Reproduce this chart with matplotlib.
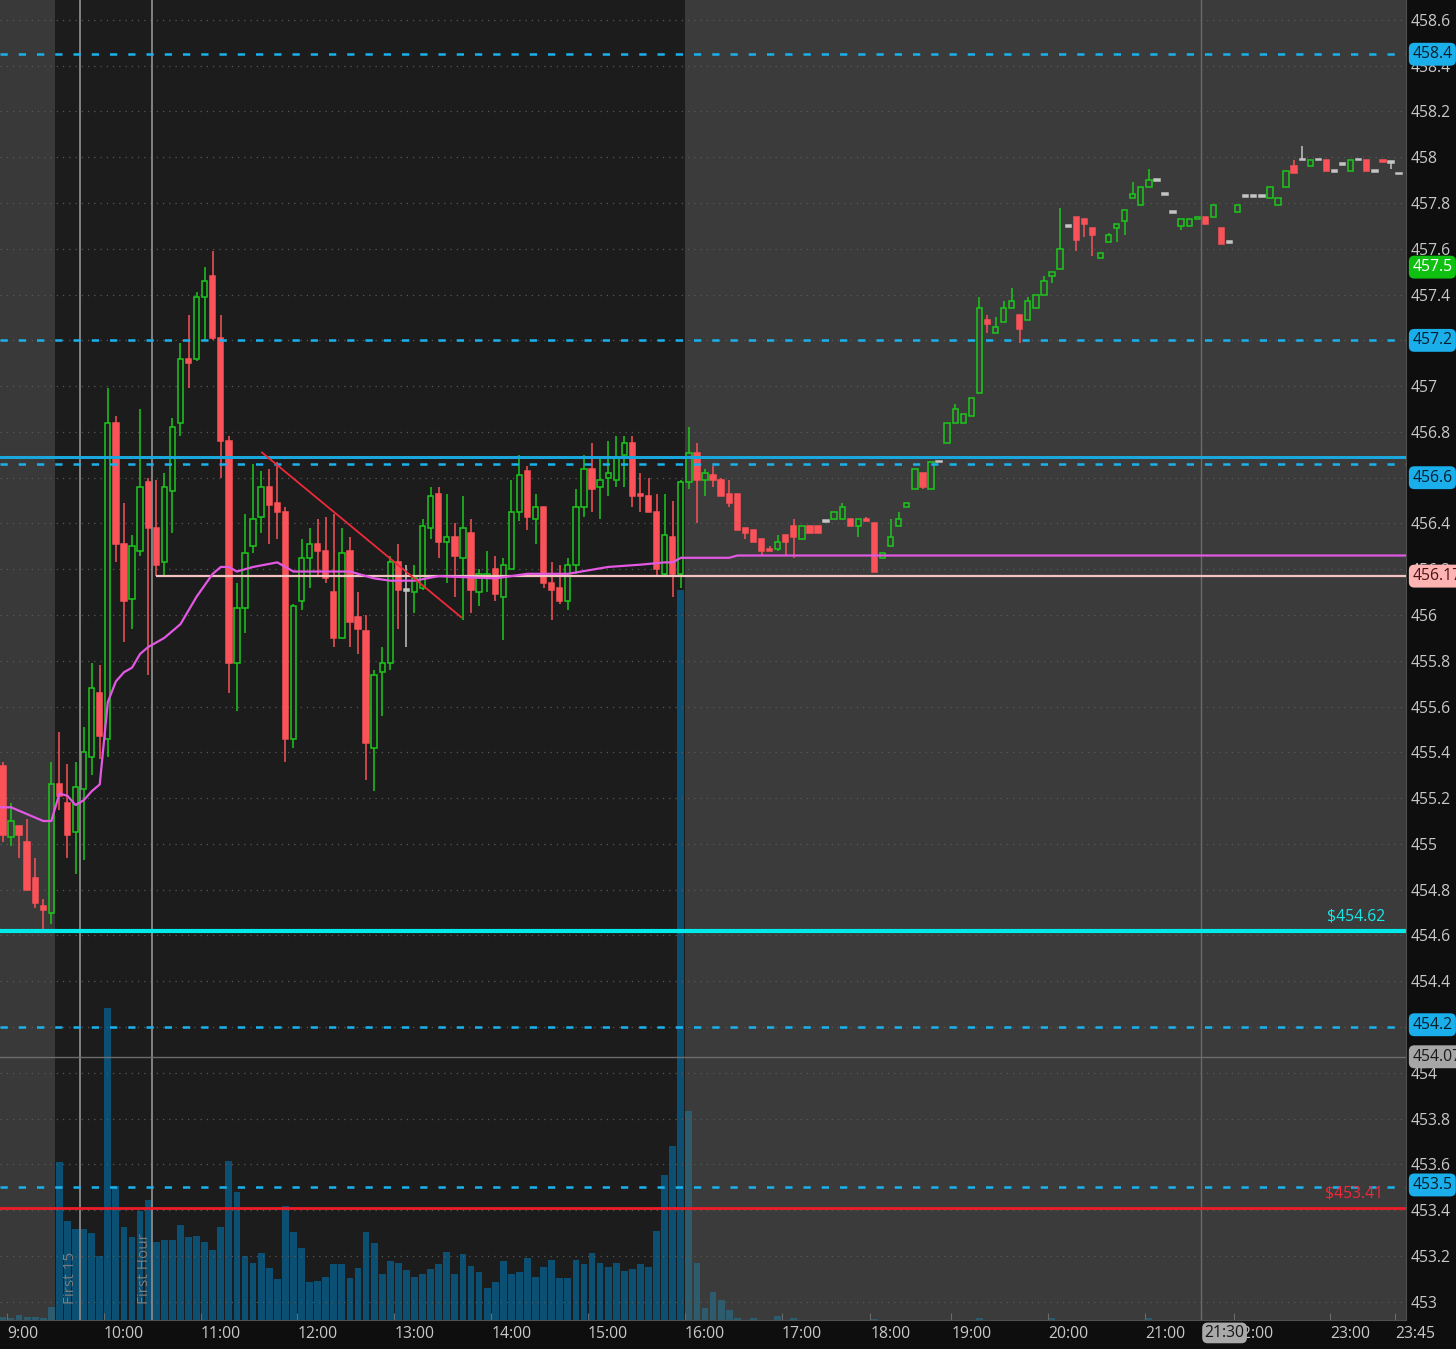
import numpy as np
import matplotlib.pyplot as plt
from matplotlib.transforms import blended_transform_factory

plt.rcParams['font.family'] = ['Open Sans', 'DejaVu Sans']

# 5 minute bars, index 0 = 9:00 bar (index -1 = 8:55)
opens = [455.34, 455.03, 455.08, 455.01, 454.85, 454.73, 454.70,
         455.26, 455.18, 455.05, 455.24, 455.38, 455.66, 455.46, 456.84, 456.31, 456.07,
         456.28, 456.58, 456.38, 456.23, 456.54, 456.84, 457.12, 457.12, 457.39, 457.48,
         457.21, 456.76, 455.79, 456.03, 456.30, 456.43, 456.56, 456.49, 456.45, 455.46,
         456.06, 456.25, 456.31, 456.28, 456.10, 455.90, 456.28, 455.99, 455.93, 455.42,
         455.75, 455.79, 456.23, 456.11, 456.10, 456.12, 456.38, 456.53, 456.32, 456.34,
         456.25, 456.36, 456.10, 456.17, 456.20, 456.08, 456.20, 456.45, 456.63, 456.42,
         456.47, 456.14, 456.12, 456.06, 456.22, 456.47, 456.64, 456.56, 456.60, 456.59,
         456.70, 456.75, 456.53, 456.52, 456.45, 456.18, 456.34, 456.18,
         456.58, 456.71, 456.59, 456.61, 456.59, 456.53, 456.53, 456.38, 456.37, 456.33,
         456.29, 456.29, 456.35, 456.39, 456.33, 456.39, 456.39, 456.41, 456.42, 456.42,
         456.42, 456.39, 456.42, 456.40, 456.25, 456.30, 456.39, 456.47, 456.55, 456.62,
         456.55, 456.67, 456.75, 456.84, 456.84, 456.87, 456.97, 457.29, 457.23, 457.28,
         457.34, 457.31, 457.29, 457.34, 457.40, 457.48, 457.51, 457.70, 457.74, 457.73,
         457.69, 457.56, 457.63, 457.69, 457.72, 457.82, 457.79, 457.87, 457.90, 457.84,
         457.76, 457.70, 457.70, 457.73, 457.74, 457.74, 457.69, 457.63, 457.76, 457.83,
         457.83, 457.83, 457.82, 457.79, 457.87, 457.96, 457.99, 457.96, 457.99, 457.99,
         457.94, 457.97, 457.94, 457.99, 457.99, 457.94, 457.99, 457.98, 457.93]
highs = [455.36, 455.18, 455.08, 455.11, 454.94, 454.76, 455.36,
         455.49, 455.35, 455.36, 455.51, 455.79, 455.78, 456.99, 456.87, 456.49, 456.35,
         456.90, 456.60, 456.59, 456.62, 456.86, 457.19, 457.31, 457.41, 457.52, 457.59,
         457.31, 456.78, 456.14, 456.44, 456.66, 456.63, 456.64, 456.67, 456.47, 456.05,
         456.33, 456.38, 456.42, 456.43, 456.44, 456.38, 456.34, 456.10, 456.00, 455.76,
         455.86, 456.26, 456.31, 456.22, 456.22, 456.42, 456.56, 456.56, 456.53, 456.40,
         456.52, 456.42, 456.20, 456.28, 456.26, 456.25, 456.59, 456.70, 456.65, 456.53,
         456.47, 456.23, 456.22, 456.25, 456.55, 456.70, 456.75, 456.69, 456.76, 456.78,
         456.78, 456.78, 456.62, 456.60, 456.53, 456.53, 456.50, 456.59,
         456.82, 456.75, 456.64, 456.65, 456.60, 456.59, 456.53, 456.38, 456.37, 456.33,
         456.30, 456.35, 456.35, 456.42, 456.39, 456.39, 456.39, 456.41, 456.45, 456.49,
         456.42, 456.42, 456.43, 456.40, 456.27, 456.42, 456.45, 456.49, 456.64, 456.62,
         456.67, 456.67, 456.84, 456.92, 456.88, 456.95, 457.39, 457.31, 457.30, 457.37,
         457.43, 457.31, 457.39, 457.40, 457.48, 457.50, 457.78, 457.70, 457.74, 457.73,
         457.69, 457.58, 457.67, 457.71, 457.77, 457.89, 457.87, 457.95, 457.90, 457.84,
         457.76, 457.73, 457.73, 457.74, 457.74, 457.79, 457.69, 457.63, 457.79, 457.83,
         457.83, 457.83, 457.87, 457.82, 457.94, 457.99, 458.05, 457.99, 457.99, 457.99,
         457.94, 457.97, 457.99, 457.99, 457.99, 457.94, 457.99, 457.98, 457.93]
lows = [455.01, 454.99, 454.94, 454.80, 454.72, 454.62, 454.65,
        455.15, 454.94, 454.87, 454.93, 455.30, 455.37, 455.38, 456.23, 455.88, 455.94,
        456.26, 455.74, 456.17, 456.17, 456.36, 456.78, 456.99, 457.11, 457.20, 457.20,
        456.60, 455.66, 455.58, 455.92, 456.27, 456.36, 456.31, 456.33, 455.36, 455.42,
        456.02, 456.12, 456.17, 456.14, 455.86, 455.90, 455.86, 455.83, 455.28, 455.23,
        455.56, 455.76, 455.94, 455.86, 456.01, 456.11, 456.33, 456.25, 456.14, 456.08,
        455.98, 456.01, 456.04, 456.10, 456.06, 455.89, 456.20, 456.41, 456.37, 456.31,
        456.12, 455.98, 456.05, 456.02, 456.18, 456.43, 456.45, 456.42, 456.52, 456.56,
        456.56, 456.47, 456.45, 456.45, 456.17, 456.17, 456.08, 456.12,
        456.55, 456.40, 456.52, 456.56, 456.52, 456.47, 456.37, 456.33, 456.32, 456.26,
        456.28, 456.28, 456.26, 456.25, 456.33, 456.36, 456.36, 456.41, 456.42, 456.42,
        456.39, 456.34, 456.41, 456.19, 456.25, 456.30, 456.39, 456.47, 456.55, 456.55,
        456.55, 456.67, 456.75, 456.84, 456.84, 456.87, 456.97, 457.23, 457.23, 457.28,
        457.34, 457.19, 457.29, 457.34, 457.40, 457.45, 457.51, 457.70, 457.59, 457.65,
        457.57, 457.56, 457.63, 457.63, 457.66, 457.82, 457.79, 457.87, 457.90, 457.84,
        457.76, 457.68, 457.70, 457.73, 457.71, 457.74, 457.62, 457.63, 457.76, 457.83,
        457.83, 457.83, 457.82, 457.79, 457.87, 457.93, 457.99, 457.96, 457.99, 457.94,
        457.94, 457.97, 457.94, 457.99, 457.94, 457.94, 457.98, 457.95, 457.93]
closes = [455.04, 455.10, 455.04, 454.80, 454.74, 454.71, 455.26,
          455.21, 455.04, 455.25, 455.40, 455.68, 455.47, 456.84, 456.31, 456.06, 456.30,
          456.56, 456.38, 456.22, 456.56, 456.82, 457.12, 457.10, 457.39, 457.46, 457.21,
          456.76, 455.79, 456.03, 456.27, 456.42, 456.56, 456.48, 456.45, 455.46, 456.04,
          456.25, 456.31, 456.28, 456.16, 455.90, 456.27, 455.97, 455.94, 455.44, 455.74,
          455.79, 456.23, 456.11, 456.11, 456.16, 456.39, 456.52, 456.32, 456.34, 456.26,
          456.38, 456.11, 456.18, 456.18, 456.09, 456.22, 456.45, 456.61, 456.43, 456.47,
          456.14, 456.11, 456.06, 456.22, 456.47, 456.64, 456.55, 456.59, 456.62, 456.69,
          456.75, 456.52, 456.52, 456.45, 456.20, 456.35, 456.18, 456.58,
          456.71, 456.59, 456.62, 456.59, 456.52, 456.49, 456.37, 456.36, 456.32, 456.28,
          456.28, 456.32, 456.32, 456.34, 456.39, 456.36, 456.36, 456.41, 456.45, 456.47,
          456.39, 456.42, 456.41, 456.19, 456.27, 456.34, 456.42, 456.49, 456.64, 456.56,
          456.67, 456.67, 456.84, 456.90, 456.88, 456.95, 457.34, 457.27, 457.26, 457.34,
          457.37, 457.25, 457.37, 457.40, 457.46, 457.50, 457.60, 457.70, 457.64, 457.71,
          457.66, 457.58, 457.66, 457.71, 457.77, 457.84, 457.87, 457.90, 457.90, 457.84,
          457.76, 457.73, 457.73, 457.74, 457.71, 457.79, 457.62, 457.63, 457.79, 457.83,
          457.83, 457.83, 457.87, 457.82, 457.94, 457.93, 457.99, 457.99, 457.99, 457.94,
          457.94, 457.97, 457.99, 457.99, 457.94, 457.94, 457.98, 457.98, 457.93]
# volume, thousands
volume = [2.7, 1.7, 4.7, 3, 3, 1.7, 12.7,
          158, 99, 91, 91, 87, 64, 312, 134, 93, 83,
          109, 120, 78, 80, 80, 95, 83, 84, 78, 70,
          93, 159, 128, 64, 57, 67, 52, 41, 114, 88,
          72, 38, 39, 43, 56, 56, 42, 52, 88, 77,
          46, 59, 57, 50, 43, 46, 51, 56, 68, 46,
          66, 54, 48, 32, 38, 59, 46, 48, 62, 43,
          53, 60, 42, 42, 60, 56, 67, 57, 53, 57,
          49, 51, 56, 53, 89, 145, 174, 730,
          209, 57, 12, 28, 20, 10, 2, 0, 2, 0,
          0, 4, 0, 2, 0, 0, 0, 0, 0, 0,
          0, 0, 0, 1, 0, 0, 0, 0, 0, 0,
          0, 0, 0, 0, 0, 0, 2, 0, 0, 0,
          0, 0, 0, 0, 0, 2, 0, 0, 0, 0,
          0, 0, 0, 0, 0, 0, 0, 2, 0, 0,
          0, 0, 0, 0, 0, 0, 0, 0, 0, 0,
          0, 0, 0, 0, 0, 0, 0, 0, 0, 0,
          0, 0, 0, 0, 0, 0, 0, 0, 0]
bar_idx = np.arange(-1, -1 + len(opens))

vwap_bar = [-2, 0, 2, 4, 5, 6, 7, 8, 9, 10, 11, 12, 13, 14, 15, 16, 17, 19, 21, 22,
            23, 24, 25, 26, 27, 28, 30, 33, 35, 42, 45, 47, 50, 53, 60, 64, 69, 74,
            78, 81, 82, 83, 84, 89, 90, 173]
vwap = [455.16, 455.16, 455.13, 455.10, 455.10, 455.22, 455.21, 455.17, 455.19, 455.23,
        455.26, 455.62, 455.71, 455.75, 455.77, 455.83, 455.86, 455.90, 455.96, 456.02,
        456.08, 456.13, 456.18, 456.21, 456.21, 456.19, 456.21, 456.23, 456.19, 456.19,
        456.16, 456.15, 456.15, 456.17, 456.16, 456.18, 456.18, 456.21, 456.22, 456.23,
        456.23, 456.25, 456.25, 456.25, 456.26, 456.26]

dashed_levels = [458.45, 457.20, 456.66, 454.20, 453.50]
resist_level = 456.69
pm_low = 454.62
red_level = 453.41
prev_close = 454.07
open_level = 456.17
trend_bar = [31.1, 55.8]
trend_price = [456.71, 455.99]

price_ticks = [453.0, 453.2, 453.4, 453.6, 453.8, 454.0, 454.2, 454.4, 454.6, 454.8,
               455.0, 455.2, 455.4, 455.6, 455.8, 456.0, 456.2, 456.4, 456.6, 456.8,
               457.0, 457.2, 457.4, 457.6, 457.8, 458.0, 458.2, 458.4, 458.6]
time_labels = ["9:00", "10:00", "11:00", "12:00", "13:00", "14:00", "15:00", "16:00",
               "17:00", "18:00", "19:00", "20:00", "21:00", "22:00", "23:00", "23:45"]
time_bar = [0, 12, 24, 36, 48, 60, 72, 84, 96, 107, 117, 129, 141, 152, 164, 172]

badge_text = ["458.4", "457.5", "457.2", "456.6", "456.17", "454.2", "454.07", "453.5"]
badge_price = [458.45, 457.52, 457.20, 456.60, 456.17, 454.21, 454.07, 453.51]
badge_bg = ['#1aaeea', '#10c010', '#1aaeea', '#1aaeea', '#ffb4b4', '#1aaeea', '#a6a6a6', '#1aaeea']
badge_fg = ['#06202e', '#ffffff', '#06202e', '#06202e', '#4a1414', '#06202e', '#1a1a1a', '#06202e']

reg_start, reg_end = 5.5, 83.5
bg_dark, bg_ext = '#1c1c1c', '#3b3b3b'
up_col, dn_col, flat_col = '#1cc81c', '#fa5258', '#c4c4c4'

fig = plt.figure(figsize=(14.56, 13.49), dpi=100, facecolor='#0e0e0e')
rect = [0, 29 / 1349, 1406 / 1456, 1320 / 1349]
ax_v = fig.add_axes(rect, zorder=1)
ax = fig.add_axes(rect, zorder=2, sharex=ax_v)
ax.patch.set_alpha(0)

# sessions
ax_v.axvspan(-5, reg_start, color='#393939', lw=0)
ax_v.axvspan(reg_start, reg_end, color=bg_dark, lw=0)
ax_v.axvspan(reg_end, 180, color=bg_ext, lw=0)

# volume
in_reg = (bar_idx > reg_start) & (bar_idx < reg_end)
vol_col = ['#0b5073' if r else '#2c5c6d' for r in in_reg]
ax_v.bar(bar_idx, volume, width=0.84, color=vol_col, lw=0, zorder=2)
ax_v.set_ylim(0, 1320)
ax_v.grid(axis='x', color='#585858', linestyle=(0, (1, 4)), lw=0.9)
ax_v.set_axisbelow(True)
ax_v.tick_params(left=False, labelleft=False, bottom=False, labelbottom=False)
for s in ax_v.spines.values():
    s.set_visible(False)

# candles
o = np.array(opens); h = np.array(highs); l = np.array(lows); c = np.array(closes)
faces, edges = [], []
for oo, cc, r in zip(o, c, in_reg):
    if cc > oo:
        faces.append(bg_dark if r else bg_ext); edges.append(up_col)
    elif cc < oo:
        faces.append(dn_col); edges.append(dn_col)
    else:
        faces.append(flat_col); edges.append(flat_col)
min_h = 0.006
bottoms = np.minimum(o, c)
heights = np.abs(c - o)
flat = heights < min_h
bottoms = np.where(flat, (o + c) / 2 - min_h / 2, bottoms)
heights = np.where(flat, min_h, heights)

ax.vlines(bar_idx, l, h, colors=edges, lw=1.1, zorder=3)
ax.bar(bar_idx, heights, bottom=bottoms, width=0.66, color=faces, edgecolor=edges,
       linewidth=1.1, zorder=4)

# levels
for lv in dashed_levels:
    ax.axhline(lv, color='#1ab2ee', lw=1.8, ls=(0, (2.9, 4.4)), zorder=6)
ax.axhline(resist_level, color='#1aa8dc', lw=2.2, zorder=6)
ax.axhline(pm_low, color='#00eaea', lw=3, zorder=6)
ax.axhline(red_level, color='#ee1c2a', lw=2.0, zorder=6)
ax.axhline(prev_close, color='#6c6c6c', lw=1.0, zorder=6)
ax.hlines(open_level, 18, 180, color='#f4c2c0', lw=1.6, zorder=6)
ax.plot(vwap_bar, vwap, color='#e258e2', lw=1.6, zorder=6)
ax.plot(trend_bar, trend_price, color='#f02a3a', lw=1.3, zorder=6)

ax.axvline(8.5, color='#8a8a8a', lw=1.3, zorder=5)
ax.axvline(17.5, color='#8a8a8a', lw=1.3, zorder=5)
ax.axvline(147.5, color='#6a6a6a', lw=1.0, zorder=5)
ax.text(7.4, 452.99, 'First 15', rotation=90, ha='center', va='bottom',
        color='#7c7c7c', fontsize=11, zorder=7)
ax.text(16.5, 452.99, 'First Hour', rotation=90, ha='center', va='bottom',
        color='#7c7c7c', fontsize=11, zorder=7)
ax.annotate('$454.62', xy=(170.3, pm_low), xytext=(0, 10.5), textcoords='offset points',
            ha='right', va='center', color='#19e6e6', fontsize=11.3, zorder=7)
ax.annotate('$453.41', xy=(170.0, red_level), xytext=(0, 10), textcoords='offset points',
            ha='right', va='center', color='#f0283a', fontsize=11.3, zorder=7)

# axes
ax.set_xlim(-1.36, 172.86)
ax.set_ylim(452.92, 458.687)
ax.yaxis.tick_right()
ax.set_yticks(price_ticks)
ax.set_yticklabels([f"{round(v, 1):g}" for v in price_ticks])
ax.set_xticks([b - 0.5 for b in time_bar])
ax.set_xticklabels(time_labels)
for lbl in ax.get_xticklabels():
    lbl.set_ha('left')
ax.tick_params(axis='y', length=0, pad=3, labelcolor='#c8c8c8', labelsize=11.3)
ax.tick_params(axis='x', direction='in', length=5, color='#6a6a6a', pad=4,
               labelcolor='#c8c8c8', labelsize=11.3)
ax.grid(axis='y', color='#585858', linestyle=(0, (1, 4)), lw=0.9)
ax.set_axisbelow(True)
for side in ['top', 'left']:
    ax.spines[side].set_visible(False)
for side in ['bottom', 'right']:
    ax.spines[side].set_color('#505050')

trans_y = blended_transform_factory(ax.transAxes, ax.transData)
for txt, p, bg, fg in zip(badge_text, badge_price, badge_bg, badge_fg):
    ax.text(1.0045, p, txt, transform=trans_y, ha='left', va='center', color=fg,
            fontsize=11.3, zorder=10, clip_on=False,
            bbox=dict(boxstyle='round,pad=0.22,rounding_size=0.35', fc=bg, ec='none'))

trans_x = blended_transform_factory(ax.transData, ax.transAxes)
ax.text(147.9, -0.0098, '21:30', transform=trans_x, ha='left', va='center',
        color='#141414', fontsize=11.3, zorder=10, clip_on=False,
        bbox=dict(boxstyle='round,pad=0.15,rounding_size=0.35', fc='#a9a9a9', ec='none'))

fig.savefig('out.png', dpi=100, facecolor=fig.get_facecolor())
